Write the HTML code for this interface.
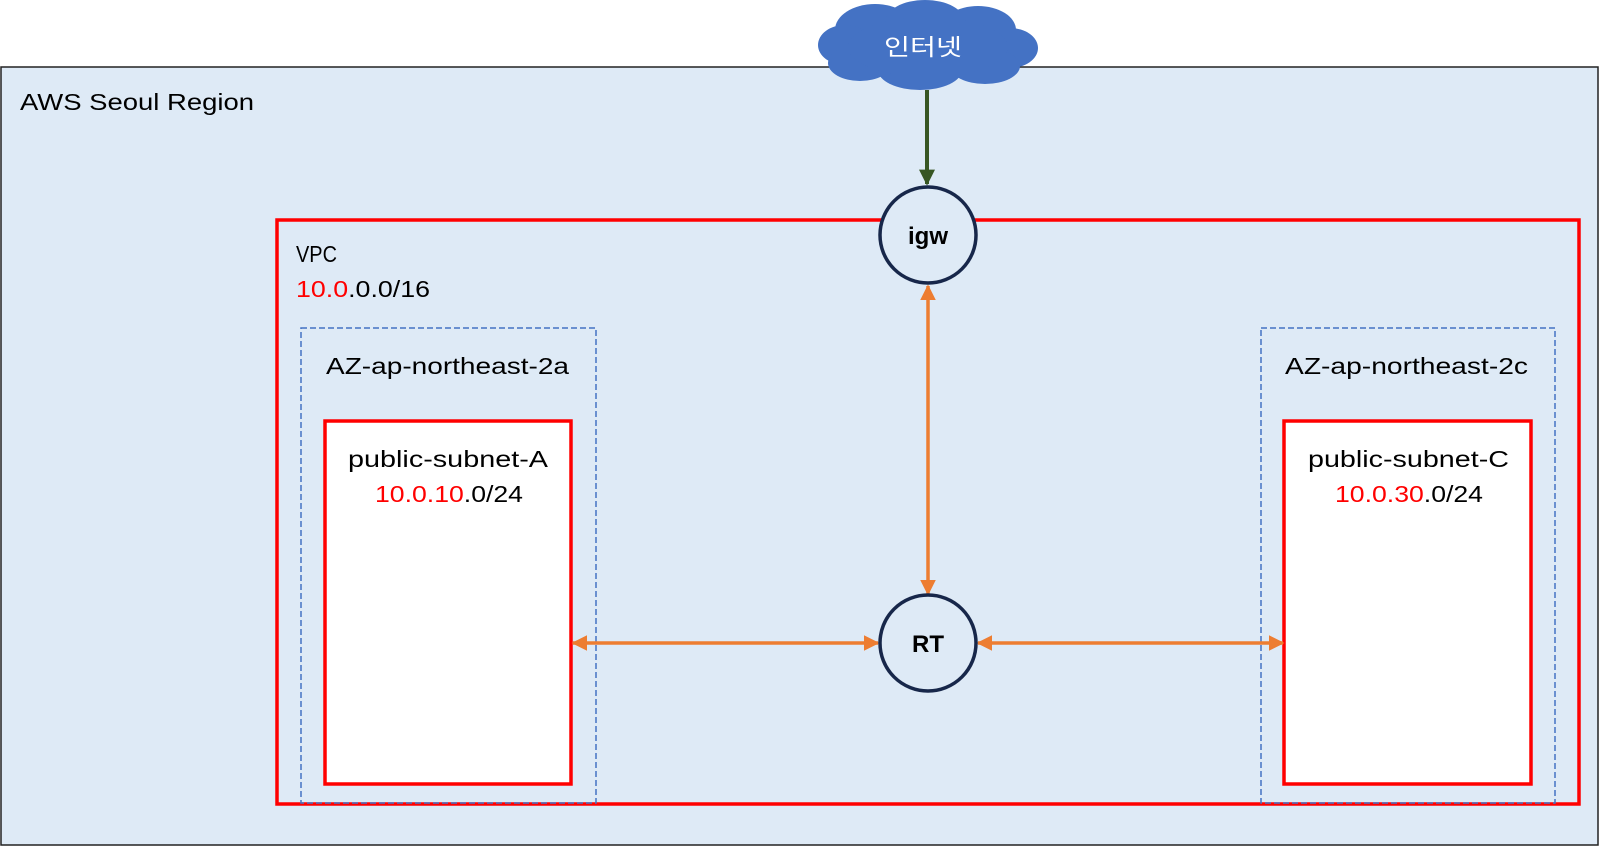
<!DOCTYPE html>
<html><head><meta charset="utf-8"><style>
html,body{margin:0;padding:0;background:#fff;}
svg{display:block;}
text{font-family:"Liberation Sans","Noto Sans CJK KR",sans-serif;font-size:23px;fill:#000;}
</style></head><body>
<svg width="1600" height="847" viewBox="0 0 1600 847" xmlns="http://www.w3.org/2000/svg">
<defs>
<marker id="og" viewBox="0 0 10 10" refX="9" refY="5" markerWidth="4.5" markerHeight="4.5" orient="auto-start-reverse"><path d="M0,0 L10,5 L0,10 z" fill="#ed7d31"/></marker>
<marker id="gr" viewBox="0 0 10 10" refX="9" refY="5" markerWidth="4" markerHeight="4" orient="auto"><path d="M0,0 L10,5 L0,10 z" fill="#375623"/></marker>
</defs>
<rect x="1" y="67" width="1597" height="778" fill="#deeaf6" stroke="#222" stroke-width="1.5"/>
<text x="20" y="110" textLength="234" lengthAdjust="spacingAndGlyphs">AWS Seoul Region</text>
<rect x="277" y="220" width="1302" height="584" fill="none" stroke="#ff0000" stroke-width="3.5"/>
<text x="296" y="262" textLength="41" lengthAdjust="spacingAndGlyphs">VPC</text>
<text x="296" y="297" textLength="134" lengthAdjust="spacingAndGlyphs"><tspan fill="#ff0000">10.0</tspan>.0.0/16</text>
<rect x="301" y="328" width="295" height="475" fill="none" stroke="#4472c4" stroke-width="1.5" stroke-dasharray="6,3"/>
<rect x="1261" y="328" width="294" height="475" fill="none" stroke="#4472c4" stroke-width="1.5" stroke-dasharray="6,3"/>
<text x="326" y="374" textLength="243" lengthAdjust="spacingAndGlyphs">AZ-ap-northeast-2a</text>
<text x="1285" y="374" textLength="243" lengthAdjust="spacingAndGlyphs">AZ-ap-northeast-2c</text>
<rect x="325" y="421" width="246" height="363" fill="#fff" stroke="#ff0000" stroke-width="3.5"/>
<rect x="1284" y="421" width="247" height="363" fill="#fff" stroke="#ff0000" stroke-width="3.5"/>
<text x="348" y="467" textLength="200" lengthAdjust="spacingAndGlyphs">public-subnet-A</text>
<text x="375" y="502" textLength="148" lengthAdjust="spacingAndGlyphs"><tspan fill="#ff0000">10.0.10</tspan>.0/24</text>
<text x="1308" y="467" textLength="201" lengthAdjust="spacingAndGlyphs">public-subnet-C</text>
<text x="1335" y="502" textLength="148" lengthAdjust="spacingAndGlyphs"><tspan fill="#ff0000">10.0.30</tspan>.0/24</text>
<line x1="927" y1="90" x2="927" y2="184" stroke="#375623" stroke-width="4" marker-end="url(#gr)"/>
<line x1="928" y1="286" x2="928" y2="594" stroke="#ed7d31" stroke-width="3.5" marker-start="url(#og)" marker-end="url(#og)"/>
<line x1="573" y1="643" x2="878" y2="643" stroke="#ed7d31" stroke-width="3.5" marker-start="url(#og)" marker-end="url(#og)"/>
<line x1="978" y1="643" x2="1283" y2="643" stroke="#ed7d31" stroke-width="3.5" marker-start="url(#og)" marker-end="url(#og)"/>
<circle cx="928" cy="235" r="48" fill="#deeaf6" stroke="#17274a" stroke-width="3.5"/>
<text x="928" y="244" text-anchor="middle" style="font-weight:bold;font-size:24px">igw</text>
<circle cx="928" cy="643" r="48" fill="#deeaf6" stroke="#17274a" stroke-width="3.5"/>
<text x="928" y="652" text-anchor="middle" style="font-weight:bold;font-size:24px">RT</text>
<g fill="#4472c4">
<ellipse cx="875" cy="30" rx="40" ry="26"/>
<ellipse cx="925" cy="22" rx="40" ry="22"/>
<ellipse cx="978" cy="30" rx="38" ry="24"/>
<ellipse cx="1010" cy="48" rx="28" ry="20"/>
<ellipse cx="845" cy="45" rx="27" ry="20"/>
<ellipse cx="860" cy="63" rx="32" ry="18"/>
<ellipse cx="920" cy="70" rx="42" ry="20"/>
<ellipse cx="985" cy="66" rx="35" ry="18"/>
<ellipse cx="928" cy="47" rx="80" ry="30"/>
</g>
<text x="884" y="55" textLength="78" lengthAdjust="spacingAndGlyphs" style="fill:#fff">인터넷</text>
</svg>
</body></html>
